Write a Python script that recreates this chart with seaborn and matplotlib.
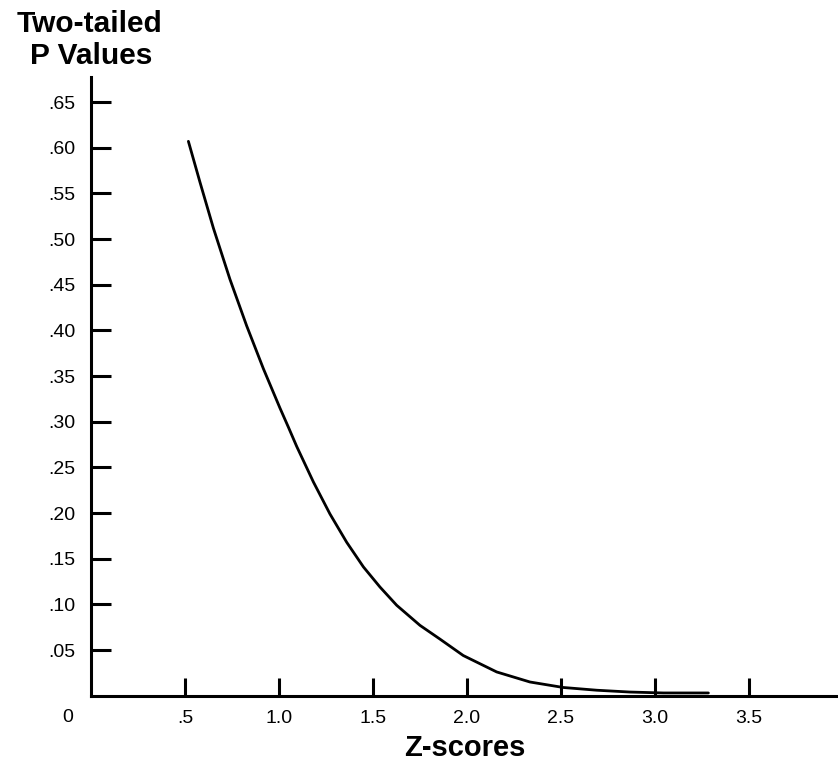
import matplotlib
matplotlib.use("Agg")
import matplotlib.pyplot as plt
import seaborn as sns
import pandas as pd

# values
z_scores = [0.518, 0.580, 0.651, 0.739, 0.828, 0.917, 1.005, 1.050, 1.094,
            1.183, 1.271, 1.360, 1.449, 1.537, 1.626, 1.750, 1.856, 1.980,
            2.158, 2.335, 2.512, 2.690, 2.867, 3.044, 3.284]
p_values = [0.607, 0.562, 0.512, 0.456, 0.405, 0.358, 0.315, 0.294, 0.273,
            0.234, 0.199, 0.168, 0.141, 0.119, 0.099, 0.077, 0.062, 0.044,
            0.026, 0.015, 0.009, 0.006, 0.004, 0.003, 0.003]

x_ticks = [0.5, 1.0, 1.5, 2.0, 2.5, 3.0, 3.5]
x_ticklabels = [".5", "1.0", "1.5", "2.0", "2.5", "3.0", "3.5"]
y_ticks = [0.05, 0.10, 0.15, 0.20, 0.25, 0.30, 0.35, 0.40, 0.45, 0.50, 0.55, 0.60, 0.65]
y_ticklabels = [".05", ".10", ".15", ".20", ".25", ".30", ".35", ".40", ".45",
                ".50", ".55", ".60", ".65"]

sns.set_style("white")
plt.rcParams['font.family'] = ['Liberation Sans', 'DejaVu Sans']
plt.rcParams['text.color'] = 'black'
plt.rcParams['axes.labelcolor'] = 'black'

df = pd.DataFrame({"z": z_scores, "p": p_values})

fig = plt.figure(figsize=(8.38, 7.64), dpi=100)
ax = fig.add_axes([91 / 838, 1 - 695.7 / 764, 747 / 838, (695.7 - 77) / 764])

sns.lineplot(data=df, x="z", y="p", ax=ax, color="black", linewidth=2.0)

ax.set_xlim(0, 747 / 188)
ax.set_ylim(0, (695.7 - 77) / 913.3)

ax.set_xticks(x_ticks)
ax.set_xticklabels(x_ticklabels)
ax.set_yticks(y_ticks)
ax.set_yticklabels(y_ticklabels)
ax.tick_params(axis="x", bottom=True, direction="in", length=13, width=2.2, pad=10,
               labelsize=14, color="black", labelcolor="black")
ax.tick_params(axis="y", left=True, direction="in", length=14.5, width=2.2, pad=11,
               labelsize=14, color="black", labelcolor="black")

for side in ["top", "right"]:
    ax.spines[side].set_visible(False)
for side in ["left", "bottom"]:
    ax.spines[side].set_color("black")
    ax.spines[side].set_linewidth(2.2)

ax.set_xlabel("Z-scores", fontsize=21, fontweight="bold", labelpad=5)
ax.set_ylabel("")

fig.text(68 / 838, 1 - 718 / 764, "0", fontsize=14, ha="center", va="center")
fig.text(89 / 838, 1 - 32 / 764, "Two-tailed", fontsize=21.5, fontweight="bold",
         ha="center", va="baseline")
fig.text(91 / 838, 1 - 64 / 764, "P Values", fontsize=21.5, fontweight="bold",
         ha="center", va="baseline")

fig.savefig("out.png", dpi=100)
